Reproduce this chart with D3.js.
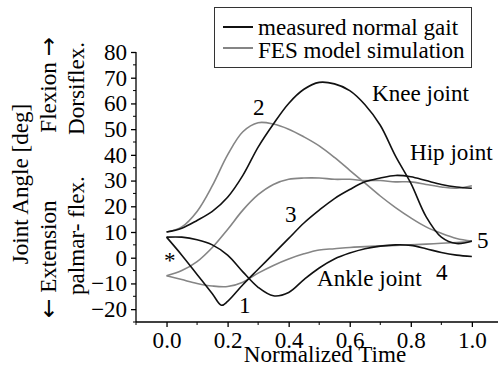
<!DOCTYPE html>
<html>
<head>
<meta charset="utf-8">
<script src="https://cdn.jsdelivr.net/npm/d3@7"></script>
<style>
  body { margin: 0; background: #fff; }
  svg text { font-family: "Liberation Serif", "Tinos", "Times New Roman", "DejaVu Serif", serif; fill: #000; }
  svg text tspan.arrow { font-family: "DejaVu Sans", sans-serif; }
</style>
</head>
<body>
<div id="chart"></div>
<script>
var width = 498;
var height = 370;

// normalized time samples
var timeSteps = [0, 0.05, 0.1, 0.15, 0.2, 0.25, 0.3, 0.35, 0.4, 0.45, 0.5,
                 0.55, 0.6, 0.65, 0.7, 0.75, 0.8, 0.85, 0.9, 0.95, 1.0];
var hipMeasuredTime = [0, 0.05, 0.1, 0.15, 0.18, 0.2, 0.25, 0.3, 0.35, 0.4, 0.45, 0.5,
                       0.55, 0.6, 0.65, 0.7, 0.75, 0.8, 0.85, 0.9, 0.95, 1.0];

// joint angles [deg]
var kneeMeasured = [10, 11.5, 14.5, 18, 23.5, 32, 43, 52, 60, 65.5, 68.2,
                    67.6, 65, 59.5, 51.5, 39.5, 29, 16, 8, 5.5, 6.5];
var kneeFes = [10, 12, 18, 28, 40, 49, 52.5, 52, 50, 47, 43.5,
               39, 34, 29, 24, 19.5, 15.5, 12, 9.5, 7.5, 6.5];
var hipMeasured = [8, 1, -6.5, -14, -18.5, -17, -10.5, -4.5, 1.5, 7.5, 13.5, 18.5,
                   23, 26.5, 29.5, 31, 32, 31.5, 30, 28.5, 27.5, 27];
var hipFes = [-7, -5, -1.5, 4, 11, 18.5, 24.5, 28.5, 30.5, 31, 31,
              30.5, 30.5, 30, 30, 29.5, 29.5, 28.5, 27.5, 27, 28];
var ankleMeasured = [8, 8, 7, 5, 1, -5.5, -11.5, -14.8, -13.5, -8.5, -4,
                     -0.5, 1.8, 3.5, 4.5, 5, 4.8, 3.5, 2, 1, 0.5];
var ankleFes = [-7, -8.5, -10, -11, -11.2, -9.5, -6, -3, -0.5, 1.5, 3,
                3.5, 4, 4.3, 4.6, 4.8, 5, 5.3, 5.6, 5.9, 6.3];

var xTicks = [0, 0.2, 0.4, 0.6, 0.8, 1.0];
var yTicks = [-20, -10, 0, 10, 20, 30, 40, 50, 60, 70, 80];
var legendLabels = ["measured normal gait", "FES model simulation"];

var measuredColor = "#111";
var fesColor = "#858585";

var xScale = d3.scaleLinear().domain([-0.1, 1.1]).range([136, 502.4]);
var yScale = d3.scaleLinear().domain([-25, 80]).range([322, 52]);

var svg = d3.select("#chart")
            .append("svg")
            .attr("width", width)
            .attr("height", height);

// font size giving the reference text widths with whatever serif face is found
var probe = svg.append("text").style("font-size", "23px").text(legendLabels[0]);
var probeWidth = probe.node().getComputedTextLength();
probe.remove();
var fs = probeWidth > 0 ? Math.max(18, Math.min(24, 23 * 200 / probeWidth)) : 23;
var fsPx = fs.toFixed(1) + "px";

var line = d3.line()
             .x(function(d) { return xScale(d[0]); })
             .y(function(d) { return yScale(d[1]); })
             .curve(d3.curveCatmullRom.alpha(0.5));

function pairs(times, values) {
  return times.map(function(t, i) { return [t, values[i]]; });
}

var series = [
  {pts: pairs(timeSteps, kneeFes), color: fesColor},
  {pts: pairs(timeSteps, hipFes), color: fesColor},
  {pts: pairs(timeSteps, ankleFes), color: fesColor},
  {pts: pairs(timeSteps, kneeMeasured), color: measuredColor},
  {pts: pairs(hipMeasuredTime, hipMeasured), color: measuredColor},
  {pts: pairs(timeSteps, ankleMeasured), color: measuredColor}
];

svg.selectAll("path.curve")
   .data(series)
   .enter()
   .append("path")
   .attr("class", "curve")
   .attr("d", function(d) { return line(d.pts); })
   .attr("fill", "none")
   .attr("stroke", function(d) { return d.color; })
   .attr("stroke-width", 1.6);

// axes
var xAxis = d3.axisBottom(xScale).tickValues(xTicks).tickSize(5).tickPadding(5)
              .tickFormat(d3.format(".1f"));
var yAxis = d3.axisLeft(yScale).tickValues(yTicks).tickSize(5).tickPadding(4);

var gx = svg.append("g")
            .attr("transform", "translate(0," + yScale(-25) + ")")
            .call(xAxis);
gx.select(".domain").attr("d", "M136,0H498");
// minor x ticks
gx.selectAll("line.minor")
  .data([-0.1, 0.1, 0.3, 0.5, 0.7, 0.9])
  .enter()
  .append("line")
  .attr("class", "minor")
  .attr("x1", function(d) { return xScale(d); })
  .attr("x2", function(d) { return xScale(d); })
  .attr("y1", 0).attr("y2", 3)
  .attr("stroke", "#000");

var gy = svg.append("g")
            .attr("transform", "translate(" + xScale(-0.1) + ",0)")
            .call(yAxis);
gy.select(".domain").attr("d", "M0," + yScale(80) + "V" + yScale(-25));
gy.selectAll("line.minor")
  .data([-25, -15, -5, 5, 15, 25, 35, 45, 55, 65, 75])
  .enter()
  .append("line")
  .attr("class", "minor")
  .attr("x1", -3).attr("x2", 0)
  .attr("y1", function(d) { return yScale(d); })
  .attr("y2", function(d) { return yScale(d); })
  .attr("stroke", "#000");

svg.selectAll(".tick text").style("font-size", fsPx);
svg.selectAll(".domain, .tick line").attr("stroke-width", 1.3);

svg.append("text")
   .attr("x", 325).attr("y", 362)
   .attr("text-anchor", "middle")
   .style("font-size", fsPx)
   .text("Normalized Time");

// y axis titles, rotated; arrows drawn from a face with a longer arrow glyph
var yTitles = [
  {parts: [["Joint Angle [deg]", ""]], x: 28, y: 184, anchor: "middle"},
  {parts: [["Flexion ", ""], ["\u2192", "arrow"]], x: 56, y: 37, anchor: "end"},
  {parts: [["\u2190", "arrow"], [" Extension", ""]], x: 56, y: 318, anchor: "start"},
  {parts: [["Dorsiflex.", ""]], x: 84, y: 42, anchor: "end"},
  {parts: [["palmar- flex.", ""]], x: 84, y: 295, anchor: "start"}
];
svg.selectAll("text.ytitle")
   .data(yTitles)
   .enter()
   .append("text")
   .attr("class", "ytitle")
   .attr("transform", function(d) { return "translate(" + d.x + "," + d.y + ") rotate(-90)"; })
   .attr("text-anchor", function(d) { return d.anchor; })
   .style("font-size", fsPx)
   .selectAll("tspan")
   .data(function(d) { return d.parts; })
   .enter()
   .append("tspan")
   .attr("class", function(p) { return p[1]; })
   .text(function(p) { return p[0]; });

// curve annotations
var notes = [
  {text: "Knee joint", x: 372, y: 101},
  {text: "Hip joint", x: 410, y: 160},
  {text: "Ankle joint", x: 317, y: 286},
  {text: "1", x: 239, y: 313},
  {text: "2", x: 253, y: 115},
  {text: "3", x: 285, y: 222},
  {text: "4", x: 436, y: 280},
  {text: "5", x: 477, y: 248},
  {text: "*", x: 164, y: 268}
];
svg.selectAll("text.note")
   .data(notes)
   .enter()
   .append("text")
   .attr("class", "note")
   .attr("x", function(d) { return d.x; })
   .attr("y", function(d) { return d.y; })
   .style("font-size", fsPx)
   .text(function(d) { return d.text; });

// legend
var legend = svg.append("g");
legend.append("rect")
      .attr("x", 214.5).attr("y", 7.5)
      .attr("width", 257).attr("height", 60)
      .attr("fill", "#fff")
      .attr("stroke", "#333")
      .attr("stroke-width", 1);
legend.selectAll("line")
      .data(legendLabels)
      .enter()
      .append("line")
      .attr("x1", 223).attr("x2", 253)
      .attr("y1", function(d, i) { return 27 + i * 21; })
      .attr("y2", function(d, i) { return 27 + i * 21; })
      .attr("stroke", function(d, i) { return i == 0 ? measuredColor : fesColor; })
      .attr("stroke-width", 2);
legend.selectAll("text")
      .data(legendLabels)
      .enter()
      .append("text")
      .attr("x", 258)
      .attr("y", function(d, i) { return 35 + i * 23; })
      .style("font-size", fsPx)
      .text(function(d) { return d; });
</script>
</body>
</html>
